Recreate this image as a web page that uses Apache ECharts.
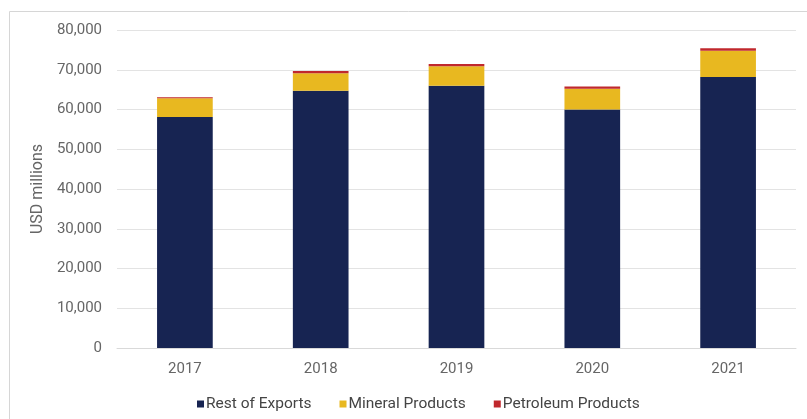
<!DOCTYPE html>
<html><head><meta charset="utf-8">
<script src="https://cdn.jsdelivr.net/npm/echarts@6/dist/echarts.min.js"></script>
<style>html,body{margin:0;padding:0;background:#fff}#c{width:807px;height:419px}</style>
</head><body><div id="c"></div>
<script>
const years = ['2017','2018','2019','2020','2021'];
const restOfExports = [58100, 64700, 66000, 60000, 68200];
const mineralProducts = [4700, 4400, 4900, 5200, 6600];
const petroleumProducts = [300, 600, 550, 600, 600];
const yTicks = [0, 10000, 20000, 30000, 40000, 50000, 60000, 70000, 80000];

const chart = echarts.init(document.getElementById('c'), null, {renderer:'canvas'});
const font = 'Roboto, "Liberation Sans", Arial, sans-serif';
function bar(name, data, color){
  return {name, type:'bar', stack:'t', data, barWidth:'41%', itemStyle:{color}, emphasis:{disabled:true}};
}
chart.setOption({
  animation:false,
  graphic:[{type:'rect', shape:{x:9.5, y:11.5, width:820, height:420}, style:{fill:'none', stroke:'#d6d6d6', lineWidth:1}, silent:true}],
  grid:{left:117, right:11, top:30, bottom:71},
  xAxis:{type:'category', data:years,
    axisLine:{lineStyle:{color:'#d9d9d9'}}, axisTick:{show:false},
    axisLabel:{color:'#666', fontSize:15, fontFamily:font, margin:14}},
  yAxis:{type:'value', min:yTicks[0], max:yTicks[yTicks.length-1], interval:10000,
    name:'USD millions', nameLocation:'middle', nameGap:68, nameRotate:90,
    nameTextStyle:{color:'#666', fontSize:16, fontFamily:font},
    axisLabel:{color:'#666', fontSize:15, fontFamily:font, margin:15,
      formatter:v=>v.toLocaleString('en-US')},
    splitLine:{lineStyle:{color:'#e3e3e3'}}, axisLine:{show:false}, axisTick:{show:false}},
  legend:{bottom:2, left:192, itemWidth:7, itemHeight:7, itemGap:28, icon:'rect',
    textStyle:{color:'#444', fontSize:15.5, fontFamily:font, padding:[0,0,0,-3]},
    data:['Rest of Exports','Mineral Products','Petroleum Products']},
  series:[
    bar('Rest of Exports', restOfExports, '#172452'),
    bar('Mineral Products', mineralProducts, '#e8b820'),
    bar('Petroleum Products', petroleumProducts, '#c0282d')
  ]
});
</script></body></html>
